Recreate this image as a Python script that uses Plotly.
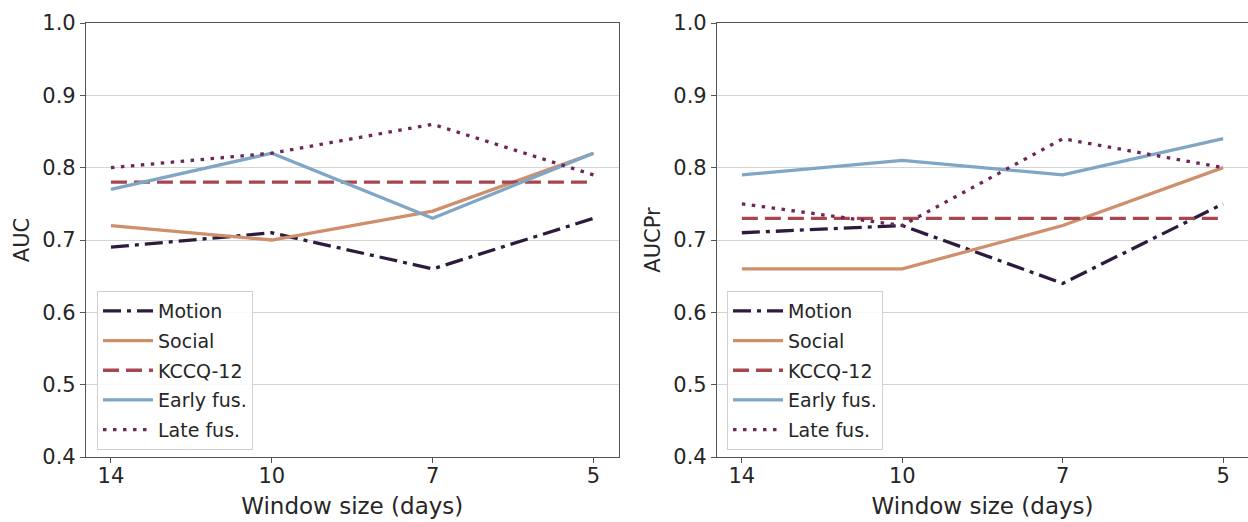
import plotly.graph_objects as go

windows = ["14", "10", "7", "5"]
series_names = ["Motion", "Social", "KCCQ-12", "Early fus.", "Late fus."]

auc_motion = [0.69, 0.71, 0.66, 0.73]
auc_social = [0.72, 0.70, 0.74, 0.82]
auc_kccq = [0.78, 0.78, 0.78, 0.78]
auc_early = [0.77, 0.82, 0.73, 0.82]
auc_late = [0.80, 0.82, 0.86, 0.79]

aucpr_motion = [0.71, 0.72, 0.64, 0.75]
aucpr_social = [0.66, 0.66, 0.72, 0.80]
aucpr_kccq = [0.73, 0.73, 0.73, 0.73]
aucpr_early = [0.79, 0.81, 0.79, 0.84]
aucpr_late = [0.75, 0.72, 0.84, 0.80]

y_ticks = [0.4, 0.5, 0.6, 0.7, 0.8, 0.9, 1.0]

colors = ["#2d1b3e", "#cf8e6c", "#a8464f", "#7fa6c5", "#6c2658"]
dashes = ["18px,6px,4px,6px", "solid", "16px,7px", "solid", "3.5px,6.5px"]

W, H = 1248, 522
FONT = "DejaVu Sans"
TXT = "#262626"

fig = go.Figure()
x_idx = list(range(len(windows)))

panels = [
    ([auc_motion, auc_social, auc_kccq, auc_early, auc_late], "x", "y", "legend"),
    ([aucpr_motion, aucpr_social, aucpr_kccq, aucpr_early, aucpr_late], "x2", "y2", "legend2"),
]
for series, xa, ya, lg in panels:
    for i, (name, vals) in enumerate(zip(series_names, series)):
        fig.add_trace(go.Scatter(
            x=x_idx, y=vals, mode="lines", name=name,
            line=dict(color=colors[i], width=3.3, dash=dashes[i]),
            xaxis=xa, yaxis=ya, legend=lg, legendgroup=lg + str(i),
        ))

def px(x):
    return x / W

def py(y):
    return 1 - y / H

axis_common = dict(
    showline=True, mirror=True, linecolor="#555555", linewidth=1.2,
    ticks="outside", ticklen=5, tickcolor="#555555", tickwidth=1.2,
    tickfont=dict(family=FONT, size=21, color=TXT),
    zeroline=False, automargin=False,
)

xaxis_common = dict(axis_common, tickmode="array", tickvals=x_idx, ticktext=windows,
                    range=[-0.155, 3.155], showgrid=False, ticklabelstandoff=-5,
                    title=dict(text="Window size (days)", font=dict(family=FONT, size=23, color=TXT), standoff=10))
yaxis_common = dict(axis_common, tickmode="array", tickvals=y_ticks,
                    ticktext=[f"{v:.1f}" for v in y_ticks],
                    range=[0.4, 1.0], showgrid=True, gridcolor="#d4d4d4", gridwidth=1)

legend_common = dict(
    bgcolor="rgba(255,255,255,0.85)", bordercolor="#d0d0d0", borderwidth=1,
    font=dict(family=FONT, size=19, color=TXT),
    tracegroupgap=2, xanchor="left", yanchor="top", itemwidth=50,
    traceorder="grouped",
)

fig.update_layout(
    width=W, height=H,
    margin=dict(l=0, r=0, t=0, b=0, autoexpand=False),
    paper_bgcolor="white", plot_bgcolor="white",
    font=dict(family=FONT, color=TXT),
    xaxis=dict(xaxis_common, domain=[px(86), px(618.5)], anchor="y"),
    yaxis=dict(yaxis_common, domain=[py(457), py(23)], anchor="x",
               title=dict(text="AUC", font=dict(family=FONT, size=21, color=TXT), standoff=6)),
    xaxis2=dict(xaxis_common, domain=[px(717), 1.0], anchor="y2"),
    yaxis2=dict(yaxis_common, domain=[py(457), py(23)], anchor="x2",
                title=dict(text="AUCPr", font=dict(family=FONT, size=21, color=TXT), standoff=6)),
    legend=dict(legend_common, x=px(97), y=py(291)),
    legend2=dict(legend_common, x=px(727), y=py(291)),
    showlegend=True,
)

fig.write_html("out.html")
